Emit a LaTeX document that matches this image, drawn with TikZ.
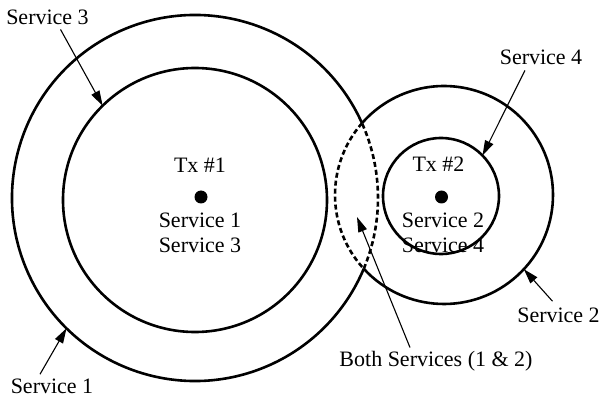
\documentclass[tikz,border=0pt]{standalone}
\usepackage{fontspec}
\setmainfont{Liberation Serif}
\usetikzlibrary{arrows.meta, positioning, calc}
\tikzset{
    ring/.style={
        draw, line width=2.6pt
    },
    overlap/.style={
        ring,
        dash pattern=on 5pt off 3pt
    },
    txdot/.style={circle, fill, inner sep=0pt, minimum size=13pt},
    lbl/.style={anchor=base, inner sep=1pt,
        font=\fontsize{22}{24}\selectfont},
    pointer/.style={
        line width=1.1pt,
        -{Triangle[length=15pt, width=9pt]},
    },
}

\begin{document}
\begin{tikzpicture}[x=1pt, y=1pt]
        \useasboundingbox (0,0) rectangle (603,397);
        \coordinate (c1) at (195,199);
        \coordinate (c1in) at (195,197);
        \coordinate (c2) at (444,202);
        \coordinate (c2in) at (441,201);

        % coverage rings
        \draw[ring] (c1in) circle[radius=132pt];
        \draw[ring] (c2in) circle[radius=58pt];
        \draw[ring] ($(c1)+(24.14:183pt)$) arc[start angle=24.14, end angle=337.24, radius=183pt];
        \draw[overlap] ($(c1)+(-22.76:183pt)$) arc[start angle=-22.76, end angle=24.14, radius=183pt];
        \draw[ring] ($(c2)+(222.59:109pt)$) arc[start angle=222.59, end angle=498.79, radius=109pt];
        \draw[overlap] ($(c2)+(138.79:109pt)$) arc[start angle=138.79, end angle=222.59, radius=109pt];

        % transmitters
        \node[txdot] (tx1) at (201,200) {};
        \node[lbl] (tx1name) at (200,224) {Tx \#1};
        \node[lbl] (s1in) at (200,169) {Service 1};
        \node[lbl] (s3in) at ([yshift=-24pt]s1in.base) {Service 3};

        \node[txdot] (tx2) at (441.5,200) {};
        \node[lbl] (tx2name) at (438.5,225) {Tx \#2};
        \node[lbl] (s2in) at (443,170) {Service 2};
        \node[lbl] (s4in) at ([yshift=-25pt]s2in.base) {Service 4};

        % points on the rings
        \coordinate (tip3) at ($(c1in)+(134.4:132pt)$);
        \coordinate (tip1) at ($(c1)+(225.4:183pt)$);
        \coordinate (tip4) at ($(c2in)+(44.3:58pt)$);
        \coordinate (tip2) at ($(c2)+(-42.9:109pt)$);
        \coordinate (tipboth) at (357,180);

        \node[lbl] (svc3) at (47.5,372) {Service 3};
        \node[lbl] (svc1) at (52,4) {Service 1};
        \node[lbl] (svc4) at (541,332) {Service 4};
        \node[lbl] (svc2) at (558.5,75) {Service 2};
        \node[lbl] (both) at (436,31) {Both Services (1 \& 2)};

        \draw[pointer] ([xshift=13pt, yshift=-3pt]svc3.south) -- (tip3);
        \draw[pointer] ([xshift=-12pt, yshift=3pt]svc1.north) -- (tip1);
        \draw[pointer] ([xshift=-16pt, yshift=-4pt]svc4.south) -- (tip4);
        \draw[pointer] ([xshift=-6pt, yshift=5pt]svc2.north) -- (tip2);
        \draw[pointer] ([xshift=-26pt, yshift=2pt]both.north) -- (tipboth);
\end{tikzpicture}
\end{document}
